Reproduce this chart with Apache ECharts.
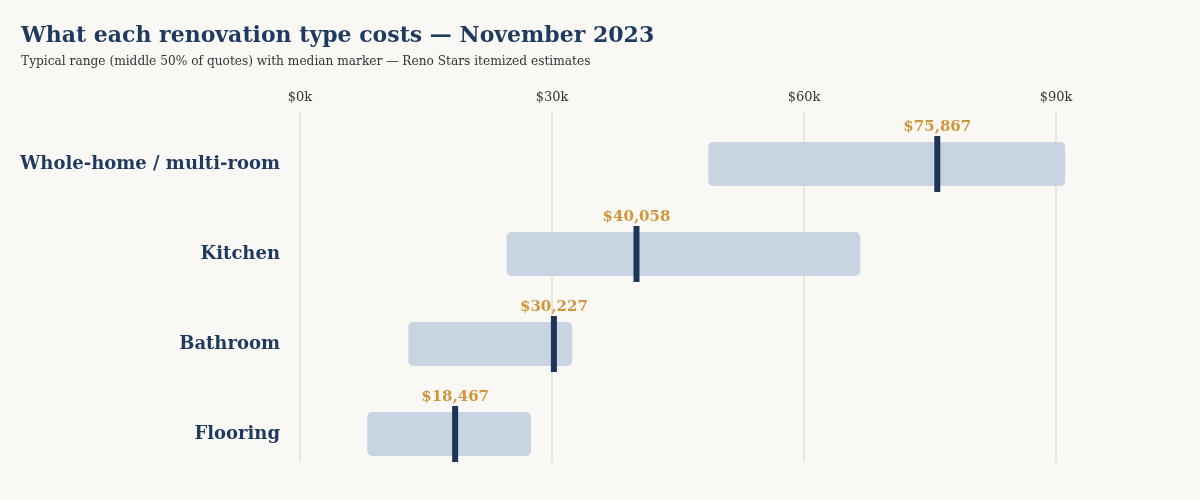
<!DOCTYPE html>
<html>
<head>
<meta charset="utf-8">
<script src="https://cdn.jsdelivr.net/npm/echarts@6/dist/echarts.min.js"></script>
<style>
  html, body { margin: 0; padding: 0; background: #f9f8f5; }
  #chart { width: 1200px; height: 500px; }
</style>
</head>
<body>
<div id="chart"></div>
<script>
// renovation types, top to bottom
const categories = ['Whole-home / multi-room', 'Kitchen', 'Bathroom', 'Flooring']
// middle 50% of quotes (25th / 75th percentile), dollars
const lowValues = [48600, 24600, 12900, 8000]
const highValues = [91100, 66700, 32400, 27500]
const medianValues = [75867, 40058, 30227, 18467]
const tickValues = [0, 30000, 60000, 90000]

const serif = "Georgia, 'DejaVu Serif', serif"
const navy = '#1d3557'

let chart = echarts.init(document.getElementById('chart'))

const fmtTick = (v) => (tickValues.indexOf(v) >= 0 ? '$' + v / 1000 + 'k' : '')

chart.setOption({
    backgroundColor: '#f9f8f5',
    animation: false,
    title: {
        text: 'What each renovation type costs \u2014 November 2023',
        subtext: 'Typical range (middle 50% of quotes) with median marker \u2014 Reno Stars itemized estimates',
        left: 16,
        top: 20,
        itemGap: 9,
        textStyle: { fontFamily: serif, fontSize: 22, fontWeight: 'bold', color: '#1f3a5f' },
        subtextStyle: { fontFamily: serif, fontSize: 12.2, color: '#333' }
    },
    grid: [
        // gridlines + tick labels
        { left: 300, right: 60, top: 112, height: 350 },
        // bars
        { left: 300, right: 60, top: 119, height: 360 }
    ],
    xAxis: [
        {
            gridIndex: 0,
            type: 'value',
            position: 'top',
            min: 0,
            max: 100000,
            interval: 30000,
            axisLine: { show: false },
            axisTick: { show: false },
            axisLabel: { formatter: fmtTick, fontFamily: serif, fontSize: 13, color: '#333', margin: 8 },
            splitLine: {
                lineStyle: { color: ['#e3e0db', '#e3e0db', '#e3e0db', '#e3e0db', 'rgba(0,0,0,0)'], width: 1.5 }
            }
        },
        {
            gridIndex: 1,
            type: 'value',
            min: 0,
            max: 100000,
            show: false
        }
    ],
    yAxis: [
        {
            gridIndex: 0,
            type: 'category',
            data: categories,
            show: false
        },
        {
            gridIndex: 1,
            type: 'category',
            data: categories,
            inverse: true,
            axisLine: { show: false },
            axisTick: { show: false },
            axisLabel: { fontFamily: serif, fontSize: 18, fontWeight: 'bold', color: '#1f3a5f', margin: 20 }
        }
    ],
    series: [
        {
            type: 'bar',
            xAxisIndex: 1,
            yAxisIndex: 1,
            stack: 'range',
            barWidth: 44,
            itemStyle: { color: 'rgba(0,0,0,0)' },
            data: lowValues
        },
        {
            type: 'bar',
            xAxisIndex: 1,
            yAxisIndex: 1,
            stack: 'range',
            barWidth: 44,
            itemStyle: { color: '#c9d4e3', borderRadius: 5 },
            data: highValues.map((h, i) => h - lowValues[i])
        },
        {
            type: 'scatter',
            xAxisIndex: 1,
            yAxisIndex: 1,
            symbol: 'rect',
            symbolSize: [6, 56],
            itemStyle: { color: navy, opacity: 1 },
            label: {
                show: true,
                position: 'top',
                distance: 1,
                formatter: (p) => '$' + p.value[0].toLocaleString('en-US'),
                fontFamily: serif,
                fontSize: 15,
                fontWeight: 'bold',
                color: '#d1963a'
            },
            z: 5,
            data: medianValues.map((m, i) => [m, categories[i]])
        }
    ]
})
</script>
</body>
</html>
